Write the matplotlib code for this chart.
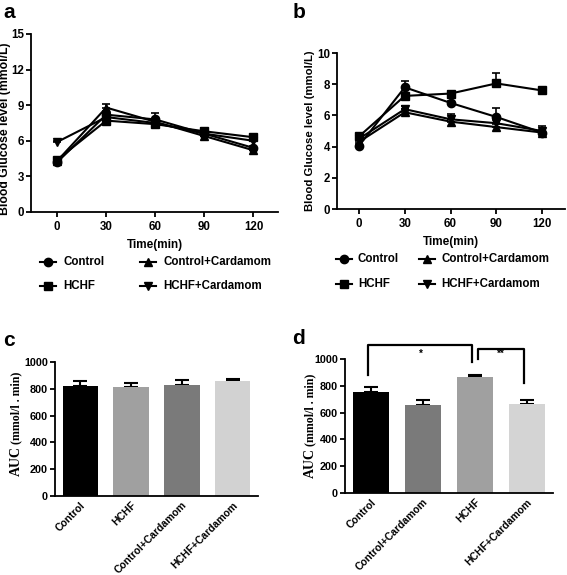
import matplotlib
matplotlib.use("Agg")
import matplotlib.pyplot as plt
from matplotlib.lines import Line2D
import numpy as np

plt.rcParams['font.family'] = ['Liberation Sans', 'DejaVu Sans']
plt.rcParams['font.weight'] = 'bold'

# ---------------- data ----------------
time_min = [0, 30, 60, 90, 120]
series_names = ["Control", "HCHF", "Control+Cardamom", "HCHF+Cardamom"]
series_markers = ["o", "s", "^", "v"]

# panel a
a_control = [4.2, 8.2, 7.8, 6.6, 5.4]
a_control_err = [0.15, 0.3, 0.55, 0.2, 0.2]
a_hchf = [4.4, 7.7, 7.4, 6.8, 6.3]
a_hchf_err = [0.15, 0.2, 0.2, 0.3, 0.2]
a_ctrl_card = [4.3, 8.8, 7.6, 6.4, 5.2]
a_ctrl_card_err = [0.1, 0.3, 0.2, 0.2, 0.2]
a_hchf_card = [5.9, 8.0, 7.5, 6.6, 6.0]
a_hchf_card_err = [0.1, 0.2, 0.2, 0.2, 0.2]

# panel b
b_control = [4.05, 7.8, 6.8, 5.9, 4.9]
b_control_err = [0.1, 0.4, 0.1, 0.55, 0.1]
b_hchf = [4.65, 7.25, 7.4, 8.05, 7.6]
b_hchf_err = [0.1, 0.15, 0.15, 0.7, 0.1]
b_ctrl_card = [4.3, 6.2, 5.6, 5.25, 4.9]
b_ctrl_card_err = [0.1, 0.2, 0.2, 0.2, 0.15]
b_hchf_card = [4.5, 6.4, 5.75, 5.5, 5.0]
b_hchf_card_err = [0.1, 0.2, 0.35, 0.25, 0.3]

# panel c
c_groups = ["Control", "HCHF", "Control+Cardamom", "HCHF+Cardamom"]
c_auc = [820, 812, 828, 858]
c_err = [35, 30, 35, 15]
c_colors = ["#000000", "#a0a0a0", "#7a7a7a", "#d2d2d2"]

# panel d
d_groups = ["Control", "Control+Cardamom", "HCHF", "HCHF+Cardamom"]
d_auc = [755, 655, 865, 665]
d_err = [35, 40, 15, 30]
d_colors = ["#000000", "#7a7a7a", "#a0a0a0", "#d4d4d4"]
d_sig = [(0, 2, "*"), (2, 3, "**")]

W, H = 567, 575
fig = plt.figure(figsize=(W / 100, H / 100), dpi=100)
renderer = fig.canvas.get_renderer()


def ax_px(l, t, r, b):
    return fig.add_axes([l / W, 1 - b / H, (r - l) / W, (b - t) / H])


def style(ax, labelsize=8.3):
    for s in ["top", "right"]:
        ax.spines[s].set_visible(False)
    for s in ["left", "bottom"]:
        ax.spines[s].set_linewidth(1.3)
    ax.tick_params(width=1.3, length=3.5, pad=1.5, labelsize=labelsize, direction="out")
    for lab in ax.get_xticklabels() + ax.get_yticklabels():
        lab.set_fontweight("bold")


def line_panel(ax, data, ylim, yticks, xlim, ylab_size, ylab_right_px, ax_left_px, ax_w_px,
               ylab_ypos):
    for (vals, err), m, name in zip(data, series_markers, series_names):
        ax.errorbar(time_min, vals, yerr=[np.zeros(len(err)), err], color="black",
                    marker=m, markersize=6, linewidth=1.5, capsize=3,
                    elinewidth=1.2, capthick=1.2, label=name, clip_on=False)
    ax.set_xlim(*xlim)
    ax.set_ylim(*ylim)
    ax.set_xticks(time_min)
    ax.set_yticks(yticks)
    ax.set_xlabel("Time(min)", fontsize=8.5, fontweight="bold", labelpad=4)
    ax.set_ylabel("Blood Glucose level (mmol/L)", fontsize=ylab_size, fontweight="bold")
    ax.yaxis.set_label_coords((ylab_right_px - ax_left_px) / ax_w_px, ylab_ypos)
    style(ax)
    ax.tick_params(axis="x", pad=3)


def legend_px(x_marker1, x_marker2, y1, y2, x_text_off):
    pos = [(x_marker1, y1), (x_marker1, y2), (x_marker2, y1), (x_marker2, y2)]
    for (xm, ym), m, name in zip(pos, series_markers, series_names):
        fx, fy = xm / W, 1 - ym / H
        fig.add_artist(Line2D([fx - 8 / W, fx + 8 / W], [fy, fy], color="black", lw=1.5))
        fig.add_artist(Line2D([fx], [fy], color="black", marker=m, markersize=6))
        fig.text(fx + x_text_off / W, fy, name, fontsize=8.3, fontweight="bold",
                 va="center", ha="left")


# panel a
axa = ax_px(31, 34, 278, 212)
line_panel(axa, [(a_control, a_control_err), (a_hchf, a_hchf_err),
                 (a_ctrl_card, a_ctrl_card_err), (a_hchf_card, a_hchf_card_err)],
           (0, 15), [0, 3, 6, 9, 12, 15], (-16, 135), 8.8, 11.5, 31, 247, 0.47)
legend_px(48, 148, 262, 286, 15)

# panel b
axb = ax_px(337, 53, 565, 209)
line_panel(axb, [(b_control, b_control_err), (b_hchf, b_hchf_err),
                 (b_ctrl_card, b_ctrl_card_err), (b_hchf_card, b_hchf_card_err)],
           (0, 10), [0, 2, 4, 6, 8, 10], (-14.4, 135), 8.2, 315, 337, 228, 0.5)
legend_px(344, 427, 259, 284, 14)


def bar_panel(ax, groups, vals, errs, colors, ylab_right, ylab_bottom):
    x = np.arange(len(groups))
    ax.bar(x, vals, width=0.7, color=colors, zorder=2)
    ax.errorbar(x, vals, yerr=[np.zeros(len(errs)), errs], fmt="none", ecolor="black",
                capsize=5, elinewidth=1.5, capthick=1.5, zorder=1)
    ax.set_xlim(-0.5, len(groups) - 0.5)
    ax.set_ylim(0, 1000)
    ax.set_yticks([0, 200, 400, 600, 800, 1000])
    ax.set_xticks(x)
    ax.set_xticklabels(groups, rotation=45, ha="right", rotation_mode="anchor")
    style(ax, labelsize=7.8)
    ax.tick_params(axis="x", length=0, pad=3)
    for lab in ax.get_xticklabels():
        lab.set_fontsize(7.5)
    serif = ["Liberation Serif", "DejaVu Serif"]
    fx = ylab_right / W
    t1 = fig.text(fx, 1 - ylab_bottom / H, "AUC", rotation=90, ha="right", va="bottom",
                  fontsize=10, fontweight="bold", family=serif)
    bb = t1.get_window_extent(renderer)
    top_px = H - bb.y1  # pixel row of top of "AUC"
    fig.text(fx - 0.5 / W, 1 - (top_px - 2) / H, "(mmol/l . min)", rotation=90,
             ha="right", va="bottom", fontsize=8.6, fontweight="bold", family=serif)


axc = ax_px(55, 362, 258, 496)
bar_panel(axc, c_groups, c_auc, c_err, c_colors, 23, 476)

axd = ax_px(345, 359, 553, 493)
bar_panel(axd, d_groups, d_auc, d_err, d_colors, 317, 478)

# significance brackets on panel d
br = [
    # (x_left, x_right, top, left_bottom, right_bottom, text_y)
    (-0.05, 1.95, 1105, 880, 980, 1040),
    (2.05, 2.95, 1075, 1000, 820, 1035),
]
for (i, j, txt), (xl, xr, top, lb, rb, ty) in zip(d_sig, br):
    axd.plot([xl, xl, xr, xr], [lb, top, top, rb], color="black", lw=1.6, clip_on=False)
    axd.text((xl + xr) / 2, ty, txt, ha="center", va="center", fontsize=7, fontweight="bold")

# panel labels
for lbl, x, y in [("a", 3, 12), ("b", 293, 12), ("c", 3, 340), ("d", 292, 338)]:
    fig.text(x / W, 1 - y / H, lbl, fontsize=15, fontweight="bold", va="center", ha="left")

fig.savefig("out.png", dpi=100)
